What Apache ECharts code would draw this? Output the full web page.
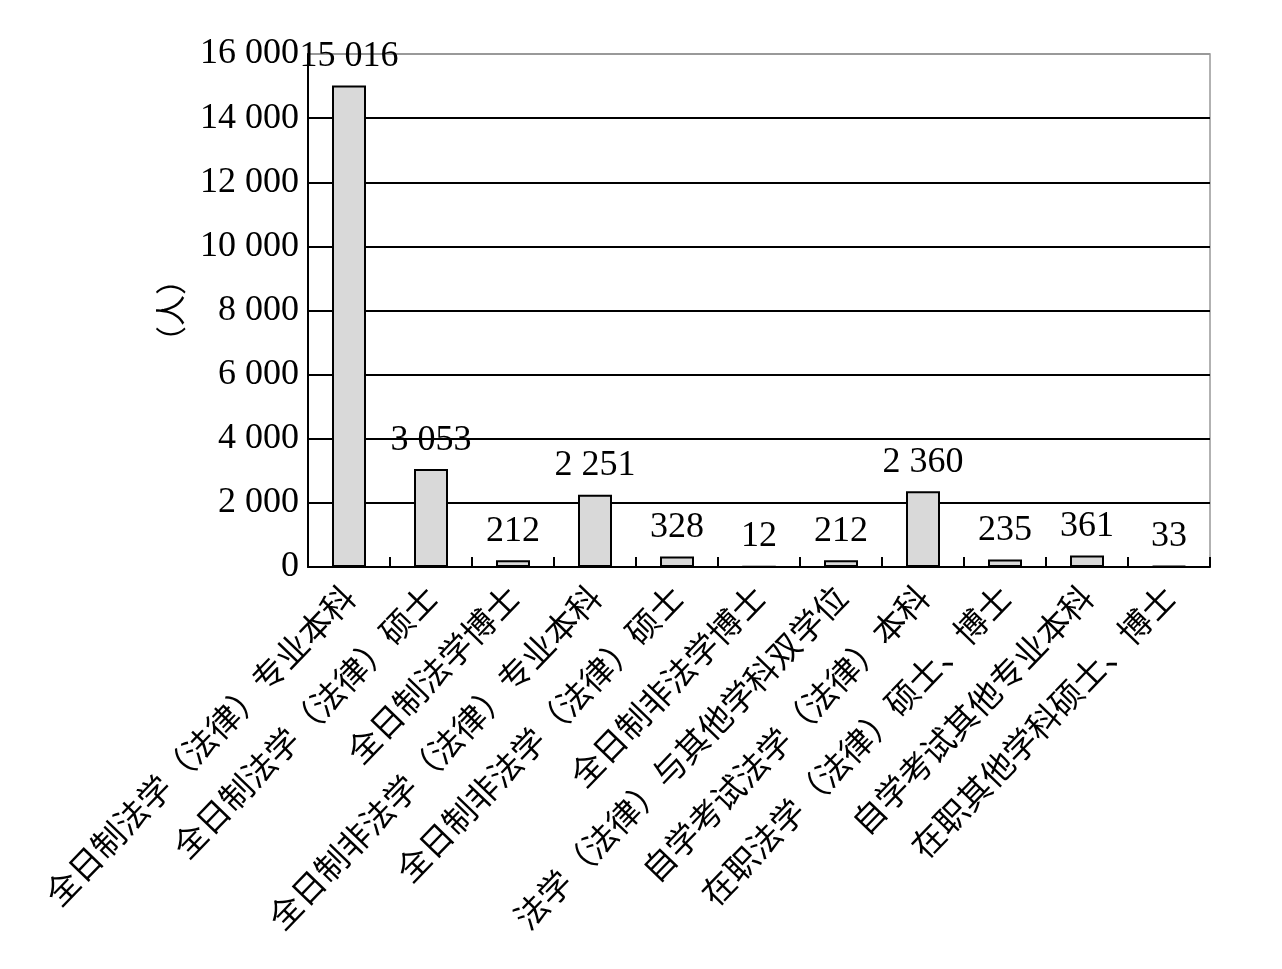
<!DOCTYPE html>
<html><head><meta charset="utf-8">
<script src="https://cdn.jsdelivr.net/npm/echarts@6/dist/echarts.min.js"></script>
<style>html,body{margin:0;padding:0;background:#fff}#c{width:1282px;height:969px}</style>
</head><body><div id="c"></div>
<script>
var categories = ["全日制法学（法律）专业本科","全日制法学（法律）硕士","全日制法学博士","全日制非法学（法律）专业本科","全日制非法学（法律）硕士","全日制非法学博士","法学（法律）与其他学科双学位","自学考试法学（法律）本科","在职法学（法律）硕士、博士","自学考试其他专业本科","在职其他学科硕士、博士"];
var values = [15016,3053,212,2251,328,12,212,2360,235,361,33];
var yName = "（人）";
function fmt(v){return String(v).replace(/\B(?=(\d{3})+(?!\d))/g,' ');}
var serif = '"Liberation Serif","Noto Sans CJK SC",serif';
var chart = echarts.init(document.getElementById('c'));
chart.setOption({
  animation:false,
  grid:{left:308,right:72,top:54,bottom:402,show:true,borderColor:'#999',borderWidth:1.5},
  xAxis:{type:'category',data:categories,
    axisLine:{lineStyle:{color:'#000',width:2}},
    axisTick:{show:true,inside:true,length:10,alignWithLabel:false,lineStyle:{color:'#000',width:2}},
    axisLabel:{rotate:46,interval:0,fontSize:33,color:'#000',margin:24,fontFamily:'"Noto Sans CJK SC",serif'}},
  yAxis:{type:'value',min:0,max:16000,interval:2000,name:yName,nameLocation:'middle',nameRotate:90,nameGap:122,
    nameTextStyle:{fontSize:31,color:'#000',fontFamily:'"Noto Sans CJK SC",serif'},
    axisLine:{show:true,lineStyle:{color:'#000',width:2}},axisTick:{show:false},
    axisLabel:{fontSize:36,color:'#000',margin:9,fontFamily:serif,formatter:fmt},
    splitLine:{lineStyle:{color:['#000','#000','#000','#000','#000','#000','#000','#000','#999'],width:2}}},
  series:[{type:'bar',data:values,barWidth:34,
    itemStyle:{color:'#d9d9d9',borderColor:'#000',borderWidth:2},
    label:{show:true,position:'top',distance:11,fontSize:36,color:'#000',fontFamily:serif,formatter:function(p){return fmt(p.value);}}}]
});
</script></body></html>
